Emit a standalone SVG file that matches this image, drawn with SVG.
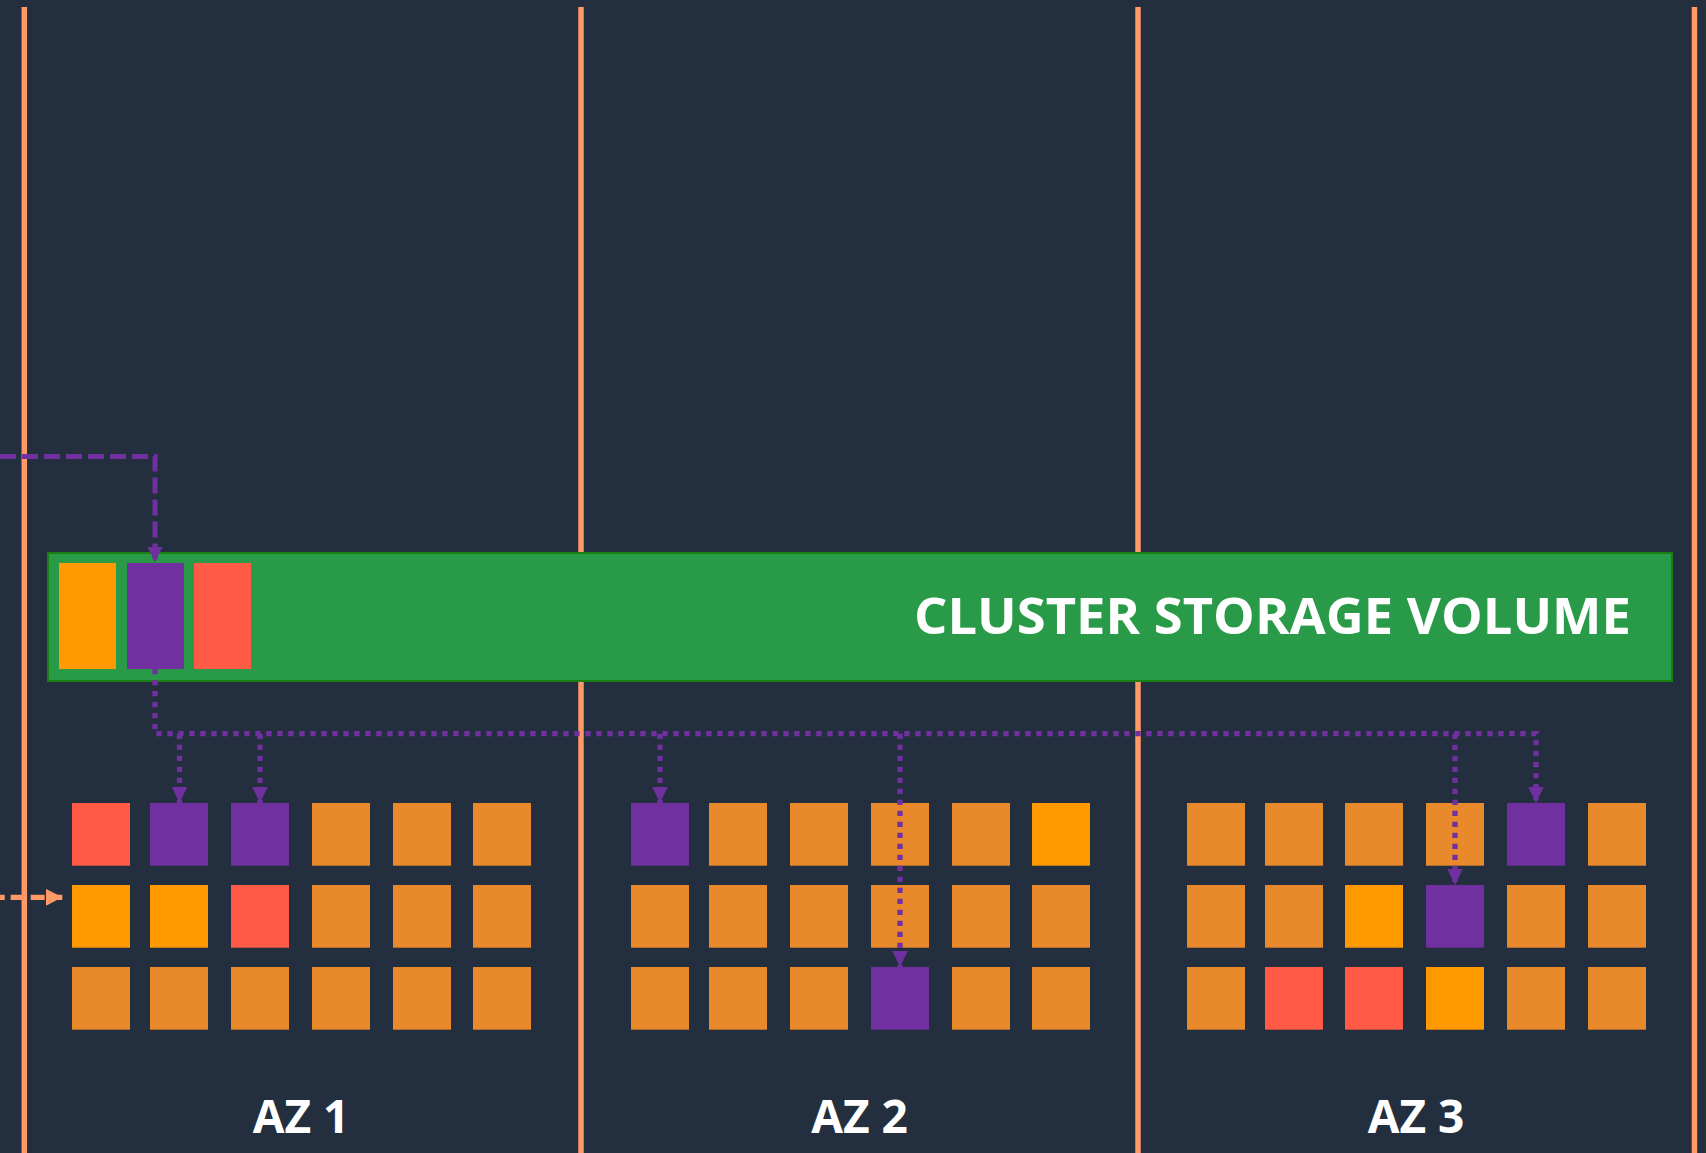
<svg xmlns="http://www.w3.org/2000/svg" width="1706" height="1153" viewBox="0 0 1706 1153">
<style>
.lane{stroke:#ff9966;stroke-width:5.5;fill:none}
.g{fill:#e8892b}
.y{fill:#ff9900}
.p{fill:#7030a0}
.r{fill:#ff5a46}
.lbl{font-family:"Open Sans","Liberation Sans",sans-serif;font-weight:700;fill:#ffffff}
.dot{stroke:#7030a0;stroke-width:5.3;stroke-dasharray:5.3 5.7;fill:none}
</style>
<defs>
<marker id="ap" markerUnits="userSpaceOnUse" markerWidth="16" markerHeight="16" refX="16" refY="7.7" orient="auto"><path d="M0,0 L16,7.7 L0,15.4 z" fill="#7030a0"/></marker>
<marker id="ao" markerUnits="userSpaceOnUse" markerWidth="18" markerHeight="18" refX="16.5" refY="8.5" orient="auto"><path d="M0,0 L16.5,8.5 L0,17 z" fill="#ff9966"/></marker>
</defs>
<rect width="1706" height="1153" fill="#232f3e"/>
<g id="lanes">
<line class="lane" x1="24.3" y1="7" x2="24.3" y2="1153"/>
<line class="lane" x1="581" y1="7" x2="581" y2="1153"/>
<line class="lane" x1="1138" y1="7" x2="1138" y2="1153"/>
<line class="lane" x1="1694.5" y1="7" x2="1694.5" y2="1153"/>
</g>
<g id="cluster-storage-volume">
<rect x="48" y="553" width="1624" height="128" fill="#299b48" stroke="#1b8012" stroke-width="2"/>
<rect class="y" x="59" y="563" width="57" height="106"/>
<rect class="p" x="127" y="563" width="57" height="106"/>
<rect class="r" x="194" y="563" width="57" height="106"/>
<text class="lbl" x="1631" y="634" font-size="51" text-anchor="end" textLength="717" lengthAdjust="spacingAndGlyphs">CLUSTER STORAGE VOLUME</text>
</g>
<g id="az1">
<rect class="r" x="72" y="803" width="58" height="62.7"/>
<rect class="p" x="150" y="803" width="58" height="62.7"/>
<rect class="p" x="231" y="803" width="58" height="62.7"/>
<rect class="g" x="312" y="803" width="58" height="62.7"/>
<rect class="g" x="393" y="803" width="58" height="62.7"/>
<rect class="g" x="473" y="803" width="58" height="62.7"/>
<rect class="y" x="72" y="885" width="58" height="62.7"/>
<rect class="y" x="150" y="885" width="58" height="62.7"/>
<rect class="r" x="231" y="885" width="58" height="62.7"/>
<rect class="g" x="312" y="885" width="58" height="62.7"/>
<rect class="g" x="393" y="885" width="58" height="62.7"/>
<rect class="g" x="473" y="885" width="58" height="62.7"/>
<rect class="g" x="72" y="967" width="58" height="62.7"/>
<rect class="g" x="150" y="967" width="58" height="62.7"/>
<rect class="g" x="231" y="967" width="58" height="62.7"/>
<rect class="g" x="312" y="967" width="58" height="62.7"/>
<rect class="g" x="393" y="967" width="58" height="62.7"/>
<rect class="g" x="473" y="967" width="58" height="62.7"/>
<text class="lbl" x="301" y="1132.7" font-size="46" text-anchor="middle">AZ 1</text>
</g>
<g id="az2">
<rect class="p" x="631" y="803" width="58" height="62.7"/>
<rect class="g" x="709" y="803" width="58" height="62.7"/>
<rect class="g" x="790" y="803" width="58" height="62.7"/>
<rect class="g" x="871" y="803" width="58" height="62.7"/>
<rect class="g" x="952" y="803" width="58" height="62.7"/>
<rect class="y" x="1032" y="803" width="58" height="62.7"/>
<rect class="g" x="631" y="885" width="58" height="62.7"/>
<rect class="g" x="709" y="885" width="58" height="62.7"/>
<rect class="g" x="790" y="885" width="58" height="62.7"/>
<rect class="g" x="871" y="885" width="58" height="62.7"/>
<rect class="g" x="952" y="885" width="58" height="62.7"/>
<rect class="g" x="1032" y="885" width="58" height="62.7"/>
<rect class="g" x="631" y="967" width="58" height="62.7"/>
<rect class="g" x="709" y="967" width="58" height="62.7"/>
<rect class="g" x="790" y="967" width="58" height="62.7"/>
<rect class="p" x="871" y="967" width="58" height="62.7"/>
<rect class="g" x="952" y="967" width="58" height="62.7"/>
<rect class="g" x="1032" y="967" width="58" height="62.7"/>
<text class="lbl" x="859.5" y="1132.7" font-size="46" text-anchor="middle">AZ 2</text>
</g>
<g id="az3">
<rect class="g" x="1187" y="803" width="58" height="62.7"/>
<rect class="g" x="1265" y="803" width="58" height="62.7"/>
<rect class="g" x="1345" y="803" width="58" height="62.7"/>
<rect class="g" x="1426" y="803" width="58" height="62.7"/>
<rect class="p" x="1507" y="803" width="58" height="62.7"/>
<rect class="g" x="1588" y="803" width="58" height="62.7"/>
<rect class="g" x="1187" y="885" width="58" height="62.7"/>
<rect class="g" x="1265" y="885" width="58" height="62.7"/>
<rect class="y" x="1345" y="885" width="58" height="62.7"/>
<rect class="p" x="1426" y="885" width="58" height="62.7"/>
<rect class="g" x="1507" y="885" width="58" height="62.7"/>
<rect class="g" x="1588" y="885" width="58" height="62.7"/>
<rect class="g" x="1187" y="967" width="58" height="62.7"/>
<rect class="r" x="1265" y="967" width="58" height="62.7"/>
<rect class="r" x="1345" y="967" width="58" height="62.7"/>
<rect class="y" x="1426" y="967" width="58" height="62.7"/>
<rect class="g" x="1507" y="967" width="58" height="62.7"/>
<rect class="g" x="1588" y="967" width="58" height="62.7"/>
<text class="lbl" x="1416" y="1132.7" font-size="46" text-anchor="middle">AZ 3</text>
</g>
<g id="connectors">
<path d="M0,456.5 H155 V562.5" fill="none" stroke="#7030a0" stroke-width="5" stroke-dasharray="16 6" marker-end="url(#ap)"/>
<path class="dot" d="M155,669 V733.7 H1536 V803" marker-end="url(#ap)"/>
<path class="dot" d="M179.5,733.7 V803" marker-end="url(#ap)"/>
<path class="dot" d="M260,733.7 V803" marker-end="url(#ap)"/>
<path class="dot" d="M660,733.7 V803" marker-end="url(#ap)"/>
<path class="dot" d="M900,733.7 V967" marker-end="url(#ap)"/>
<path class="dot" d="M1455,733.7 V885" marker-end="url(#ap)"/>
<path d="M0,897.3 H62.3" fill="none" stroke="#ff9966" stroke-width="5.3" stroke-dasharray="14 6" stroke-dashoffset="9.3" marker-end="url(#ao)"/>
</g>
</svg>
